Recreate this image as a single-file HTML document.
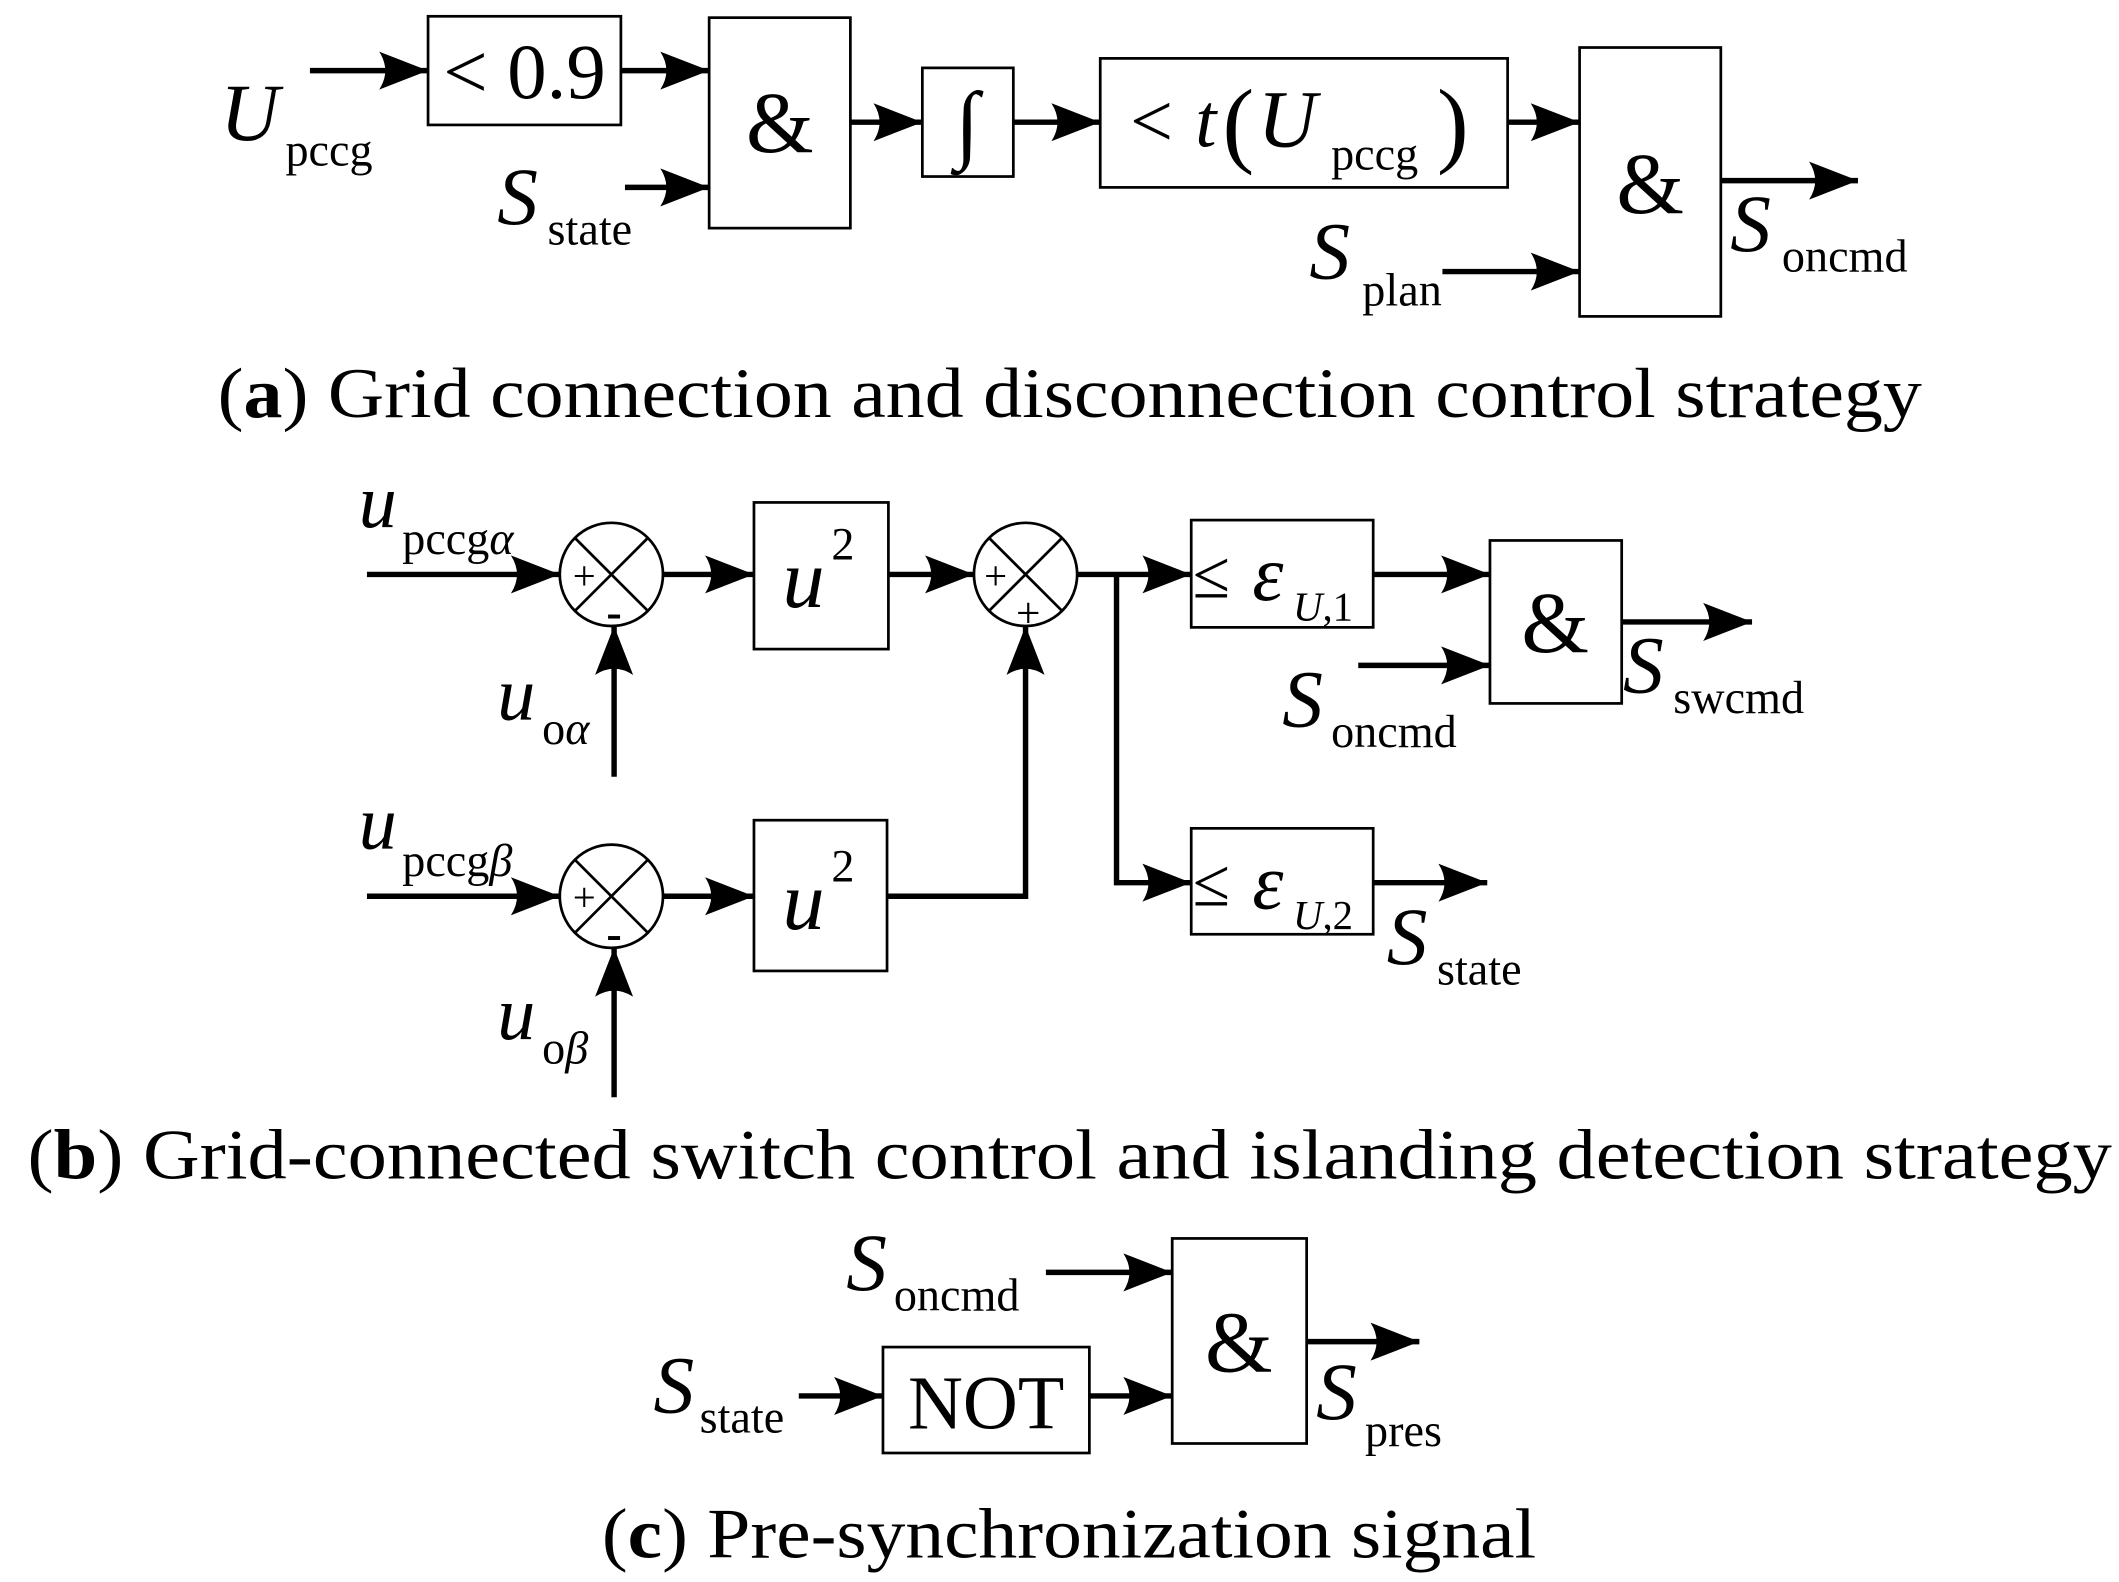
<!DOCTYPE html>
<html><head><meta charset="utf-8"><style>
html,body{margin:0;padding:0;background:#fff;}
svg{display:block;}
text{font-family:"Liberation Serif","DejaVu Serif",serif;fill:#000;}
.i{font-style:italic;}
</style></head><body>
<svg width="2119" height="1582" viewBox="0 0 1560 1165" xmlns="http://www.w3.org/2000/svg">
<defs>
<marker id="a" viewBox="0 0 36 28" refX="36" refY="14" markerWidth="36" markerHeight="28" markerUnits="userSpaceOnUse" orient="auto">
<path d="M0,0 L36,14 L0,28 Q9,14 0,0 Z" fill="#000"/>
</marker>
</defs>
<g fill="none" stroke="#000" stroke-width="2">
<rect x="315" y="12" width="142" height="80"/>
<rect x="522" y="13" width="104" height="155"/>
<rect x="679" y="50" width="67" height="80"/>
<rect x="810" y="43" width="300" height="95"/>
<rect x="1163" y="35" width="104" height="198"/>
<circle cx="450" cy="423" r="38"/>
<line x1="423" y1="396" x2="477" y2="450"/><line x1="477" y1="396" x2="423" y2="450"/>
<circle cx="755" cy="423" r="38"/>
<line x1="728" y1="396" x2="782" y2="450"/><line x1="782" y1="396" x2="728" y2="450"/>
<circle cx="450" cy="660" r="38"/>
<line x1="423" y1="633" x2="477" y2="687"/><line x1="477" y1="633" x2="423" y2="687"/>
<rect x="555" y="370" width="99" height="108"/>
<rect x="555" y="604" width="98" height="111"/>
<rect x="877" y="383" width="134" height="79"/>
<rect x="877" y="610" width="134" height="78"/>
<rect x="1097" y="398" width="97" height="120"/>
<rect x="863" y="912" width="99" height="151"/>
<rect x="650" y="992" width="152" height="78"/>
</g>
<g fill="none" stroke="#000" stroke-width="4">
<line x1="228" y1="52" x2="315" y2="52" marker-end="url(#a)"/>
<line x1="457" y1="52" x2="522" y2="52" marker-end="url(#a)"/>
<line x1="460" y1="138" x2="522" y2="138" marker-end="url(#a)"/>
<line x1="626" y1="90" x2="679" y2="90" marker-end="url(#a)"/>
<line x1="746" y1="90" x2="810" y2="90" marker-end="url(#a)"/>
<line x1="1110" y1="90" x2="1163" y2="90" marker-end="url(#a)"/>
<line x1="1062" y1="200" x2="1163" y2="200" marker-end="url(#a)"/>
<line x1="1267" y1="133" x2="1368" y2="133" marker-end="url(#a)"/>
<line x1="270" y1="423" x2="412" y2="423" marker-end="url(#a)"/>
<line x1="452" y1="572" x2="452" y2="461" marker-end="url(#a)"/>
<line x1="488" y1="423" x2="555" y2="423" marker-end="url(#a)"/>
<line x1="654" y1="423" x2="717" y2="423" marker-end="url(#a)"/>
<line x1="793" y1="423" x2="877" y2="423" marker-end="url(#a)"/>
<polyline points="822,423 822,650 877,650" marker-end="url(#a)"/>
<line x1="1011" y1="423" x2="1097" y2="423" marker-end="url(#a)"/>
<line x1="1000" y1="490" x2="1097" y2="490" marker-end="url(#a)"/>
<line x1="1194" y1="458" x2="1290" y2="458" marker-end="url(#a)"/>
<line x1="270" y1="660" x2="412" y2="660" marker-end="url(#a)"/>
<line x1="452" y1="808" x2="452" y2="698" marker-end="url(#a)"/>
<line x1="488" y1="660" x2="555" y2="660" marker-end="url(#a)"/>
<polyline points="653,660 755,660 755,461" marker-end="url(#a)"/>
<line x1="1011" y1="650" x2="1095" y2="650" marker-end="url(#a)"/>
<line x1="770" y1="937" x2="863" y2="937" marker-end="url(#a)"/>
<line x1="588" y1="1028" x2="650" y2="1028" marker-end="url(#a)"/>
<line x1="802" y1="1028" x2="863" y2="1028" marker-end="url(#a)"/>
<line x1="962" y1="988" x2="1045" y2="988" marker-end="url(#a)"/>
</g>

<text x="162" y="103" font-size="60" class="i">U</text><text x="210" y="122" font-size="34">pccg</text>
<text x="386" y="72" font-size="58" text-anchor="middle">&lt; 0.9</text>
<text x="574" y="112" font-size="64" text-anchor="middle">&amp;</text>
<text x="366" y="165" font-size="60" class="i">S</text><text x="403" y="180" font-size="34">state</text>
<text x="712" y="112" font-size="64" text-anchor="middle" class="i">∫</text>
<text x="832" y="108" font-size="56">&lt;</text>
<text x="880" y="108" font-size="56" class="i">t</text>
<text x="900" y="114" font-size="70">(</text>
<text x="926" y="108" font-size="60" class="i">U</text><text x="980" y="125" font-size="34">pccg</text>
<text x="1058" y="114" font-size="70">)</text>
<text x="1215" y="157" font-size="64" text-anchor="middle">&amp;</text>
<text x="964" y="205" font-size="60" class="i">S</text><text x="1003" y="225" font-size="34">plan</text>
<text x="1274" y="185" font-size="60" class="i">S</text><text x="1312" y="200" font-size="34">oncmd</text>
<text x="160" y="307" font-size="52" textLength="1255" lengthAdjust="spacingAndGlyphs">(<tspan font-weight="bold">a</tspan>) Grid connection and disconnection control strategy</text>

<text x="264" y="388" font-size="56" class="i">u</text><text x="296" y="408" font-size="34">pccg<tspan class="i">α</tspan></text>
<text x="430" y="434" font-size="30" text-anchor="middle">+</text>
<text x="452" y="462" font-size="34" text-anchor="middle" font-weight="bold">-</text>
<text x="366" y="530" font-size="56" class="i">u</text><text x="399" y="548" font-size="34">o<tspan class="i">α</tspan></text>
<text x="576" y="447" font-size="62" class="i">u</text><text x="612" y="412" font-size="34">2</text>
<text x="733" y="434" font-size="30" text-anchor="middle">+</text>
<text x="757" y="462" font-size="32" text-anchor="middle">+</text>
<text x="878" y="440" font-size="50">≤</text><text x="922" y="442" font-size="58" class="i">ε</text><text x="952" y="457" font-size="30"><tspan class="i">U</tspan>,1</text>
<text x="1145" y="480" font-size="64" text-anchor="middle">&amp;</text>
<text x="944" y="535" font-size="60" class="i">S</text><text x="980" y="550" font-size="34">oncmd</text>
<text x="1195" y="510" font-size="60" class="i">S</text><text x="1232" y="525" font-size="34">swcmd</text>
<text x="264" y="625" font-size="56" class="i">u</text><text x="296" y="645" font-size="34">pccg<tspan class="i">β</tspan></text>
<text x="430" y="671" font-size="30" text-anchor="middle">+</text>
<text x="452" y="699" font-size="34" text-anchor="middle" font-weight="bold">-</text>
<text x="366" y="765" font-size="56" class="i">u</text><text x="399" y="783" font-size="34">o<tspan class="i">β</tspan></text>
<text x="576" y="684" font-size="62" class="i">u</text><text x="612" y="649" font-size="34">2</text>
<text x="878" y="667" font-size="50">≤</text><text x="922" y="669" font-size="58" class="i">ε</text><text x="952" y="684" font-size="30"><tspan class="i">U</tspan>,2</text>
<text x="1021" y="710" font-size="60" class="i">S</text><text x="1058" y="725" font-size="34">state</text>
<text x="20" y="868" font-size="52" textLength="1535" lengthAdjust="spacingAndGlyphs">(<tspan font-weight="bold">b</tspan>) Grid-connected switch control and islanding detection strategy</text>

<text x="623" y="950" font-size="60" class="i">S</text><text x="658" y="965" font-size="34">oncmd</text>
<text x="912" y="1010" font-size="64" text-anchor="middle">&amp;</text>
<text x="481" y="1040" font-size="60" class="i">S</text><text x="515" y="1055" font-size="34">state</text>
<text x="726" y="1052" font-size="56" text-anchor="middle">NOT</text>
<text x="969" y="1045" font-size="60" class="i">S</text><text x="1005" y="1065" font-size="34">pres</text>
<text x="443" y="1147" font-size="52" textLength="688" lengthAdjust="spacingAndGlyphs">(<tspan font-weight="bold">c</tspan>) Pre-synchronization signal</text>
</svg>
</body></html>
